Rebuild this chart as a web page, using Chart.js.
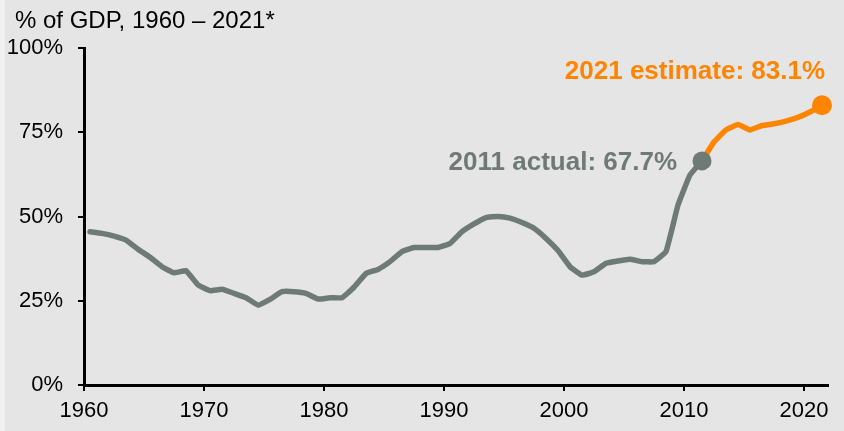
<!DOCTYPE html>
<html>
<head>
<meta charset="utf-8">
<script src="https://cdn.jsdelivr.net/npm/chart.js@4/dist/chart.umd.min.js"></script>
<style>
  html, body { margin: 0; padding: 0; }
  body { background: linear-gradient(to right, #f1f1f1 5px, #e4e5e4 5px); }
  canvas { display: block; }
</style>
</head>
<body>
<canvas id="chart" width="844" height="431"></canvas>
<script>
// Federal debt held by the public, % of GDP. Values read off the reference
// chart; each year is plotted at mid-year, like the original.
const TITLE = '% of GDP, 1960 \u2013 2021*';

const actualYears = [
  1960, 1961, 1962, 1963, 1964, 1965, 1966, 1967, 1968, 1969,
  1970, 1971, 1972, 1973, 1974, 1975, 1976, 1977, 1978, 1979,
  1980, 1981, 1982, 1983, 1984, 1985, 1986, 1987, 1988, 1989,
  1990, 1991, 1992, 1993, 1994, 1995, 1996, 1997, 1998, 1999,
  2000, 2001, 2002, 2003, 2004, 2005, 2006, 2007, 2008, 2009,
  2010, 2011,
];
const actualValues = [
  45.5, 45.0, 44.2, 43.0, 40.3, 37.9, 35.1, 33.3, 33.9, 29.7,
  28.0, 28.4, 27.2, 25.9, 23.7, 25.4, 27.7, 27.7, 27.2, 25.5,
  25.9, 25.9, 29.0, 33.1, 34.3, 36.6, 39.6, 40.8, 40.8, 40.8,
  42.0, 45.5, 47.8, 49.7, 50.0, 49.5, 48.2, 46.5, 43.5, 39.9,
  35.1, 32.6, 33.6, 36.1, 36.8, 37.3, 36.6, 36.6, 39.6, 53.4,
  62.3, 66.5,
];

const estimateYears = [2011, 2012, 2013, 2014, 2015, 2016, 2017, 2018, 2019, 2020, 2021];
const estimateValues = [66.5, 72.1, 75.7, 77.3, 75.7, 77.0, 77.5, 78.3, 79.4, 81.0, 83.0];

const xTickYears = [1960, 1970, 1980, 1990, 2000, 2010, 2020];
const yTicks = [0, 25, 50, 75, 100];

const ACTUAL_NOTE = '2011 actual: 67.7%';
const ESTIMATE_NOTE = '2021 estimate: 83.1%';

const GREY = '#6e7a76';
const ORANGE = '#ff8400';
const FONT = '"Liberation Sans", Arial, sans-serif';
const MID_YEAR = 0.5;

const toPoints = (years, values) => years.map((yr, i) => ({ x: yr + MID_YEAR, y: values[i] }));
const lastDot = r => ctx => (ctx.dataIndex === ctx.dataset.data.length - 1 ? r : 0);

// Title and the two call-outs; call-outs are anchored to the end points.
const notes = {
  id: 'notes',
  afterDatasetsDraw(chart) {
    const { ctx, scales: { x, y } } = chart;
    ctx.save();
    ctx.font = `24px ${FONT}`;
    ctx.fillStyle = '#000';
    ctx.textAlign = 'left';
    ctx.textBaseline = 'alphabetic';
    ctx.fillText(TITLE, 15, 28);

    ctx.font = `bold 26px ${FONT}`;
    ctx.textAlign = 'right';
    ctx.textBaseline = 'middle';

    const ai = actualYears.length - 1;
    const ax = x.getPixelForValue(actualYears[ai] + MID_YEAR);
    const ay = y.getPixelForValue(actualValues[ai]);
    ctx.fillStyle = GREY;
    ctx.fillText(ACTUAL_NOTE, ax - 25, ay + 2);

    const ei = estimateYears.length - 1;
    const ex = x.getPixelForValue(estimateYears[ei] + MID_YEAR);
    const ey = y.getPixelForValue(estimateValues[ei]);
    ctx.fillStyle = ORANGE;
    ctx.fillText(ESTIMATE_NOTE, ex + 3, ey - 33);
    ctx.restore();
  },
};

new Chart(document.getElementById('chart'), {
  type: 'line',
  data: {
    datasets: [
      {
        data: toPoints(actualYears, actualValues),
        borderColor: GREY,
        backgroundColor: GREY,
        borderWidth: 5.5,
        borderJoinStyle: 'round',
        borderCapStyle: 'round',
        tension: 0.1,
        pointRadius: lastDot(9.5),
        pointBorderWidth: 0,
        pointBackgroundColor: GREY,
        fill: false,
        clip: false,
      },
      {
        data: toPoints(estimateYears, estimateValues),
        borderColor: ORANGE,
        backgroundColor: ORANGE,
        borderWidth: 5.5,
        borderJoinStyle: 'round',
        borderCapStyle: 'round',
        tension: 0.1,
        pointRadius: lastDot(10),
        pointBorderWidth: 0,
        pointBackgroundColor: ORANGE,
        fill: false,
        clip: false,
      },
    ],
  },
  options: {
    responsive: false,
    animation: false,
    layout: { padding: { top: 48, right: 16, bottom: 0, left: 0 } },
    plugins: { legend: { display: false }, tooltip: { enabled: false }, title: { display: false } },
    scales: {
      x: {
        type: 'linear',
        min: 1960,
        max: 2022,
        afterFit: s => { s.height = 46; },
        afterBuildTicks: s => { s.ticks = xTickYears.map(v => ({ value: v })); },
        border: { display: true, color: '#000', width: 3 },
        grid: { drawOnChartArea: false, drawTicks: true, tickLength: 6, color: '#000', lineWidth: 2 },
        ticks: {
          color: '#000',
          font: { family: FONT, size: 22 },
          padding: 7,
          maxRotation: 0,
          autoSkip: false,
          callback: v => String(v),
        },
      },
      y: {
        min: 0,
        max: 100,
        afterFit: s => { s.width = 84; },
        afterBuildTicks: s => { s.ticks = yTicks.map(v => ({ value: v })); },
        border: { display: true, color: '#000', width: 3 },
        grid: { drawOnChartArea: false, drawTicks: true, tickLength: 6, color: '#000', lineWidth: 2 },
        ticks: {
          color: '#000',
          font: { family: FONT, size: 22 },
          padding: 15,
          callback: v => v + '%',
        },
      },
    },
  },
  plugins: [notes],
});
</script>
</body>
</html>
